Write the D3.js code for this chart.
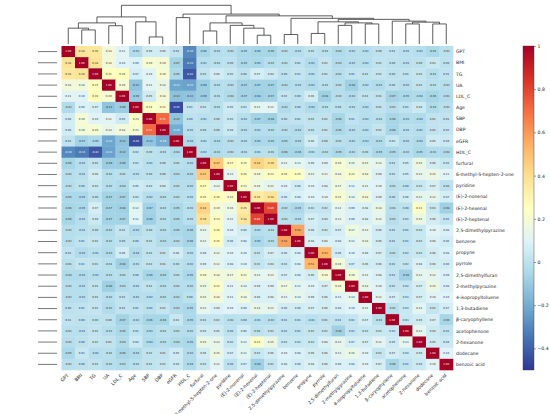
<!DOCTYPE html>
<html><head><meta charset="utf-8">
<script src="https://cdn.jsdelivr.net/npm/d3@7"></script>
<style>body{margin:0;background:#fff}svg{display:block;font-family:"DejaVu Sans",sans-serif}.lab{opacity:0.999}</style>
</head><body><svg id="c" width="550" height="414"></svg>
<script>
const labels = ["GPT","BMI","TG","UA","LDL_C","Age","SBP","DBP","eGFR","HDL_C",
  "furfural","6-methyl-5-hepten-2-one","pyridine","(E)-2-nonenal","(E)-2-hexenal","(E)-2-heptenal",
  "2,5-dimethylpyrazine","benzene","propyne","pyrrole","2,5-dimethylfuran","2-methylpyrazine",
  "4-isopropyltoluene","1,3-butadiene","β-caryophyllene","acetophenone","2-hexanone","dodecane","benzoic acid"];

// lower triangle among clinical variables
const clinicalCorr = [
  [1],
  [0.38, 1],
  [0.36, 0.38, 1],
  [0.18, 0.18, 0.25, 1],
  [0.11, 0.10, 0.26, 0.20, 1],
  [-0.03, 0.09, 0.07, -0.12, -0.09, 1],
  [0.06, 0.20, 0.10, 0.11, 0.05, 0.24, 1],
  [0.06, 0.19, 0.20, 0.14, 0.18, 0.21, 0.71, 1],
  [0.01, -0.07, -0.05, -0.22, -0.13, -0.45, -0.12, -0.20, 1],
  [-0.30, -0.33, -0.42, -0.23, -0.12, 0.02, 0.00, -0.01, -0.04, 1]
];
// clinical rows x VOC columns
const clinicalVocCorr = [
  [-0.06, -0.02, -0.02, -0.05, -0.06, -0.06, -0.02, -0.02, 0.01, -0.01, -0.04, -0.02, -0.02, 0.00, 0.01, -0.01, -0.02, -0.05, -0.01],
  [-0.02, -0.01, 0.00, -0.05, -0.05, -0.02, -0.01, 0.01, -0.03, 0.02, -0.03, -0.02, -0.02, 0.01, 0.00, -0.01, 0.00, 0.03, 0.00],
  [0.01, 0.06, 0.03, 0.00, 0.07, 0.04, 0.00, 0.02, -0.01, 0.01, -0.02, 0.01, 0.01, 0.02, -0.00, 0.01, 0.02, -0.02, 0.01],
  [-0.09, -0.02, -0.02, -0.07, -0.07, -0.07, -0.03, -0.02, -0.03, -0.01, -0.02, -0.08, -0.02, -0.03, 0.00, -0.02, 0.01, -0.01, -0.02],
  [-0.09, -0.01, -0.04, -0.07, -0.08, -0.07, 0.02, 0.00, 0.06, -0.08, -0.02, -0.03, 0.01, 0.01, -0.07, -0.05, -0.04, -0.06, -0.03],
  [0.02, -0.01, 0.05, 0.03, 0.12, 0.11, -0.03, -0.00, -0.04, -0.01, -0.00, -0.01, -0.02, 0.01, -0.02, 0.01, 0.04, -0.04, -0.01],
  [-0.01, 0.00, 0.03, -0.02, -0.07, -0.08, -0.00, 0.01, 0.01, 0.01, -0.06, 0.01, -0.02, -0.01, -0.06, -0.03, -0.04, 0.01, 0.01],
  [-0.00, 0.00, 0.04, -0.02, -0.02, -0.02, -0.02, -0.03, 0.01, 0.01, -0.05, -0.02, -0.02, 0.02, -0.06, -0.01, -0.02, 0.01, 0.02],
  [-0.01, -0.03, -0.02, -0.02, -0.05, -0.05, -0.05, -0.03, 0.06, -0.00, -0.01, -0.02, -0.03, -0.03, 0.03, -0.02, -0.04, 0.05, 0.04],
  [-0.02, -0.03, -0.02, -0.01, -0.01, -0.01, -0.06, -0.06, -0.01, -0.02, -0.05, -0.02, 0.00, -0.05, -0.05, -0.02, -0.05, -0.03, -0.04]
];
// lower triangle among VOCs
const vocCorr = [
  [1],
  [0.47, 1],
  [0.27, 0.13, 1],
  [0.25, 0.26, 0.23, 1],
  [0.44, 0.19, 0.16, 0.35, 1],
  [0.39, 0.23, 0.12, 0.38, 0.80, 1],
  [0.13, 0.26, 0.10, 0.06, -0.02, -0.01, 1],
  [0.13, 0.25, 0.06, 0.08, -0.05, -0.02, 0.58, 1],
  [0.09, 0.12, 0.10, 0.10, 0.02, 0.07, 0.06, 0.08, 1],
  [0.09, 0.12, 0.08, 0.10, 0.02, 0.04, 0.03, 0.08, 0.53, 1],
  [0.20, 0.18, 0.17, 0.21, 0.13, 0.13, 0.07, 0.08, 0.06, 0.19, 1],
  [0.15, 0.22, 0.11, 0.14, 0.09, 0.09, 0.17, 0.12, 0.10, 0.07, 0.20, 1],
  [0.15, 0.18, 0.11, 0.18, 0.08, 0.08, 0.13, 0.14, 0.09, 0.06, 0.11, 0.14, 1],
  [0.13, 0.09, 0.10, 0.09, 0.14, 0.12, 0.06, 0.06, 0.07, 0.06, 0.08, 0.10, 0.11, 1],
  [0.01, 0.02, -0.01, 0.00, -0.01, -0.02, 0.01, 0.01, -0.01, 0.01, 0.01, 0.02, 0.07, -0.01, 1],
  [0.05, 0.05, 0.00, 0.06, 0.00, 0.02, 0.01, 0.01, 0.02, 0.02, -0.08, 0.02, 0.03, 0.03, 0.03, 1],
  [0.15, 0.13, 0.03, 0.12, 0.23, 0.15, 0.03, 0.03, 0.03, 0.08, 0.13, 0.07, 0.07, 0.11, 0.05, 0.13, 1],
  [0.06, 0.15, 0.07, 0.12, 0.03, 0.06, 0.10, 0.08, 0.06, 0.06, 0.12, 0.15, 0.10, 0.02, 0.07, 0.04, 0.05, 1],
  [0.03, 0.11, 0.00, 0.07, -0.08, 0.02, 0.08, 0.06, 0.08, 0.06, 0.09, 0.08, 0.10, 0.07, -0.06, 0.01, 0.04, 0.10, 1]
];
// column dendrogram linkage: [childA, childB, height]; ids >= 29 refer to earlier merges
const linkage = [
  [6, 7, 0.20], [14, 15, 0.25], [16, 17, 0.27], [18, 19, 0.30], [10, 11, 0.37],
  [1, 2, 0.40], [0, 34, 0.45], [13, 30, 0.45], [3, 4, 0.52], [12, 36, 0.53],
  [20, 21, 0.53], [22, 23, 0.57], [25, 26, 0.57], [27, 28, 0.57], [35, 37, 0.60],
  [33, 38, 0.60], [39, 40, 0.60], [41, 42, 0.62], [5, 29, 0.63], [32, 45, 0.63],
  [24, 46, 0.65], [48, 49, 0.70], [31, 50, 0.73], [8, 9, 0.75], [43, 47, 0.77],
  [44, 51, 0.80], [52, 54, 0.85], [53, 55, 1.10]
];
const cbarTicks = [1, 0.8, 0.6, 0.4, 0.2, 0, -0.2, -0.4];
const vmin = -0.5, vmax = 1;

const n = labels.length, nc = clinicalCorr.length;
function corr(i, j) {
  if (i < j) [i, j] = [j, i];
  if (i < nc) return clinicalCorr[i][j];
  if (j < nc) return clinicalVocCorr[j][i - nc];
  return vocCorr[i - nc][j - nc];
}
const cells = [];
for (let i = 0; i < n; i++) for (let j = 0; j < n; j++) cells.push({r: i, c: j, v: corr(i, j)});

const svg = d3.select("#c");
const X0 = 61.5, X1 = 453, Y0 = 46, Y1 = 370;
const x = d3.scaleBand().domain(d3.range(n)).range([X0, X1]);
const y = d3.scaleBand().domain(d3.range(n)).range([Y0, Y1]);

const rdylbu = d3.schemeRdYlBu[11].slice().reverse();
const color = d3.scaleLinear()
  .domain(d3.range(11).map(k => vmin + (vmax - vmin) * k / 10))
  .range(rdylbu).interpolate(d3.interpolateRgb).clamp(true);

function lum(c) {
  const q = d3.rgb(c);
  const f = v => { v /= 255; return v <= 0.03928 ? v / 12.92 : Math.pow((v + 0.055) / 1.055, 2.4); };
  return 0.2126 * f(q.r) + 0.7152 * f(q.g) + 0.0722 * f(q.b);
}

// heatmap cells
svg.append("g").selectAll("rect").data(cells).join("rect")
  .attr("x", d => x(d.c)).attr("y", d => y(d.r))
  .attr("width", x.bandwidth() + 0.3).attr("height", y.bandwidth() + 0.3)
  .attr("fill", d => color(d.v));
svg.append("g").attr("class", "lab").selectAll("text").data(cells).join("text")
  .attr("x", d => x(d.c) + x.bandwidth() / 2).attr("y", d => y(d.r) + y.bandwidth() / 2)
  .attr("text-anchor", "middle").attr("dy", "0.35em")
  .attr("font-size", 2.6)
  .attr("fill", d => lum(color(d.v)) > 0.408 ? "#262626" : "#fff")
  .text(d => d3.format(".2f")(d.v).replace("−", "-"));

// row labels
svg.append("g").attr("class", "lab").selectAll("text").data(labels).join("text")
  .attr("x", X1 + 3).attr("y", (d, i) => y(i) + y.bandwidth() / 2)
  .attr("dy", "0.35em").attr("font-size", 4.6).attr("fill", "#222").text(d => d);

// column labels
svg.append("g").attr("class", "lab").selectAll("text").data(labels).join("text")
  .attr("transform", (d, i) => `translate(${x(i) + x.bandwidth() / 2 - 0.5},${Y1 + 4.5}) rotate(-45)`)
  .attr("text-anchor", "end").attr("dy", "0.35em")
  .attr("font-size", 4.6).attr("fill", "#222").text(d => d);

// left row markers
svg.append("g").selectAll("line").data(d3.range(n)).join("line")
  .attr("x1", 38).attr("x2", 57)
  .attr("y1", i => y(i) + y.bandwidth() / 2).attr("y2", i => y(i) + y.bandwidth() / 2)
  .attr("stroke", "#555").attr("stroke-width", 0.8);

// column dendrogram
const hScale = d3.scaleLinear().domain([0, 1.10]).range([44, 5.3]);
const nodes = d3.range(n).map(i => ({x: x(i) + x.bandwidth() / 2, h: 0}));
const dg = svg.append("g").attr("fill", "none").attr("stroke", "#333").attr("stroke-width", 0.8);
linkage.forEach(([a, b, h]) => {
  const A = nodes[a], B = nodes[b];
  dg.append("path").attr("d",
    `M${A.x},${hScale(A.h)}V${hScale(h)}H${B.x}V${hScale(B.h)}`);
  nodes.push({x: (A.x + B.x) / 2, h});
});

// colorbar
const CB_X = 523, CB_W = 11;
const cy = d3.scaleLinear().domain([vmin, vmax]).range([Y1, Y0]);
const grad = svg.append("defs").append("linearGradient").attr("id", "g")
  .attr("x1", 0).attr("y1", 1).attr("x2", 0).attr("y2", 0);
d3.range(0, 1.0001, 0.02).forEach(t => grad.append("stop")
  .attr("offset", t).attr("stop-color", color(vmin + t * (vmax - vmin))));
svg.append("rect").attr("x", CB_X).attr("y", Y0).attr("width", CB_W).attr("height", Y1 - Y0)
  .attr("fill", "url(#g)").attr("stroke", "#333").attr("stroke-width", 0.4);
const ax = svg.append("g").attr("class", "lab").attr("transform", `translate(${CB_X + CB_W},0)`)
  .call(d3.axisRight(cy).tickValues(cbarTicks).tickSize(2).tickPadding(1.5)
    .tickFormat(d => (d < 0 ? "\u2212" : "") + String(Math.abs(d))));
ax.select(".domain").remove();
ax.selectAll("line").attr("stroke", "#333").attr("stroke-width", 0.5);
ax.selectAll("text").attr("font-size", 4.6).attr("fill", "#222").attr("font-family", "DejaVu Sans");
</script></body></html>
